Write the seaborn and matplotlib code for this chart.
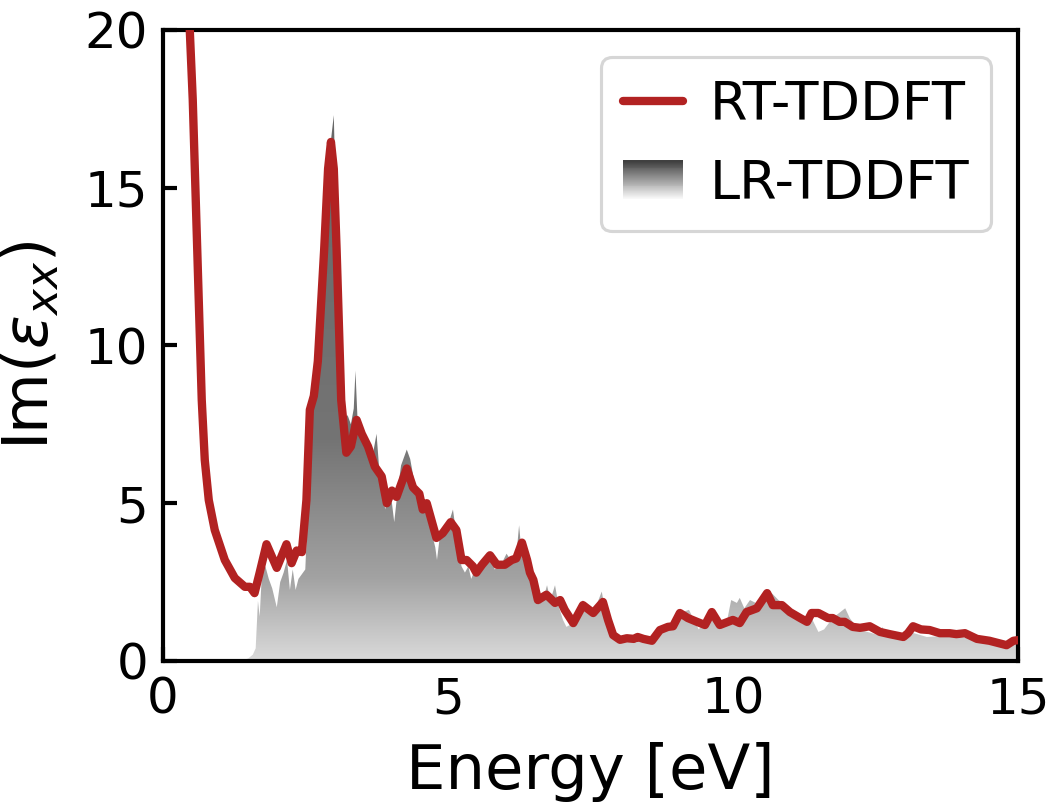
import numpy as np
import matplotlib
matplotlib.use("Agg")
import matplotlib.pyplot as plt
import seaborn as sns
from matplotlib.colors import LinearSegmentedColormap
from matplotlib.legend_handler import HandlerBase
from matplotlib.patches import Rectangle, Patch

# ---------------- data ----------------
rt_x = [0.40, 0.474, 0.526, 0.579, 0.632, 0.684, 0.737, 0.807, 0.912, 1.088, 1.263, 1.44,
        1.53, 1.61, 1.70,
        1.82, 2.00, 2.17, 2.26, 2.35, 2.44, 2.52, 2.58, 2.65, 2.72, 2.83, 2.90, 2.95, 3.00,
        3.05, 3.13, 3.22, 3.30, 3.40, 3.49, 3.60, 3.72, 3.84, 3.93, 4.02, 4.10, 4.28, 4.39,
        4.50, 4.56, 4.63, 4.80, 4.91, 5.05, 5.15, 5.24, 5.33, 5.44, 5.50, 5.60, 5.74, 5.86,
        6.00, 6.12, 6.20, 6.30, 6.39, 6.44, 6.50, 6.58, 6.73, 6.88, 6.97, 7.05, 7.20, 7.37,
        7.55, 7.72, 7.81, 7.90, 8.02, 8.14, 8.26, 8.33, 8.43, 8.58, 8.72, 8.86, 8.95, 9.07,
        9.21, 9.37, 9.51, 9.63, 9.77, 10.00, 10.12, 10.24, 10.42, 10.60, 10.70, 10.86, 11.00,
        11.18, 11.30, 11.38, 11.50, 11.67, 11.75, 11.87, 11.96, 12.10, 12.23, 12.40, 12.58,
        12.75, 12.99, 13.07, 13.16, 13.30, 13.45, 13.63, 13.80, 13.92, 14.07, 14.28, 14.50,
        14.80, 14.92, 15.00]
rt_y = [26.0, 20.0, 17.8, 14.6, 11.4, 8.27, 6.37, 5.1, 4.15, 3.2, 2.63, 2.35,
        2.35, 2.15, 2.8,
        3.7, 2.95, 3.7, 3.1, 3.5, 3.45, 5.1, 7.96, 8.4, 9.5, 13.0, 15.6, 16.45, 15.6,
        13.0, 8.27, 6.6, 6.8, 7.64, 7.2, 6.8, 6.16, 5.85, 5.0, 5.4, 5.2, 6.1, 5.5,
        5.3, 4.8, 5.0, 3.9, 4.05, 4.4, 4.15, 3.2, 3.2, 3.0, 2.8, 3.05, 3.35, 3.05,
        3.05, 3.2, 3.25, 3.75, 3.2, 2.8, 2.57, 1.93, 2.1, 1.84, 1.93, 1.62, 1.2, 1.77,
        1.52, 1.87, 1.3, 0.82, 0.67, 0.72, 0.70, 0.76, 0.70, 0.64, 0.98, 1.08, 1.1, 1.52,
        1.36, 1.24, 1.14, 1.55, 1.14, 1.3, 1.2, 1.55, 1.67, 2.15, 1.77, 1.77, 1.55,
        1.36, 1.24, 1.52, 1.52, 1.36, 1.36, 1.24, 1.24, 1.08, 1.05, 1.1, 0.92,
        0.85, 0.76, 0.88, 1.1, 1.0, 0.98, 0.88, 0.88, 0.85, 0.88, 0.7, 0.64,
        0.5, 0.64, 0.66]

lr_x = [0.0, 1.20, 1.40, 1.50, 1.58, 1.63, 1.67, 1.70, 1.74, 1.80, 1.86, 1.92, 2.00, 2.06,
        2.12, 2.18, 2.23, 2.28, 2.33, 2.38, 2.44, 2.50, 2.55, 2.58, 2.65, 2.72, 2.80, 2.88,
        2.95, 3.00, 3.03, 3.08, 3.13, 3.18, 3.24, 3.30, 3.35, 3.38, 3.42, 3.48, 3.55, 3.62,
        3.68, 3.75, 3.80, 3.86, 3.90, 3.96, 4.02, 4.06, 4.12, 4.18, 4.28, 4.34, 4.40, 4.47,
        4.55, 4.62, 4.70, 4.78, 4.81, 4.86, 4.95, 5.02, 5.09, 5.15, 5.24, 5.30, 5.36, 5.41,
        5.50, 5.62, 5.73, 5.82, 5.92, 6.03, 6.12, 6.20, 6.25, 6.30, 6.38, 6.46, 6.58, 6.68,
        6.74, 6.80, 6.88, 6.95, 7.02, 7.08, 7.20, 7.37, 7.45, 7.55, 7.70, 7.77, 7.90, 8.02,
        8.30, 8.60, 8.72, 8.90, 9.07, 9.23, 9.40, 9.55, 9.63, 9.77, 9.90, 9.97, 10.07, 10.12,
        10.20, 10.30, 10.40, 10.50, 10.60, 10.68, 10.80, 10.88, 10.95, 11.05, 11.27, 11.38,
        11.50, 11.60, 11.75, 11.97, 12.05, 12.20, 12.40, 12.55, 12.62, 12.70, 12.90, 13.05,
        13.40, 13.80, 14.30, 14.60, 15.00]
lr_y = [0.0, 0.0, 0.02, 0.08, 0.2, 0.4, 1.9, 1.4, 2.8, 3.0, 2.6, 2.3, 1.7, 2.5,
        2.8, 3.2, 2.25, 2.9, 2.25, 2.6, 2.75, 2.9, 5.0, 7.8, 8.2, 9.0, 11.5, 14.5,
        16.5, 17.3, 15.0, 11.0, 8.2, 7.4, 7.8, 7.5, 8.0, 9.2, 7.5, 7.2, 6.8, 6.4,
        6.5, 7.2, 6.0, 5.5, 4.8, 5.3, 5.0, 4.4, 5.4, 6.2, 6.7, 6.4, 5.8, 5.3,
        4.7, 4.9, 4.2, 3.6, 3.2, 3.95, 4.2, 4.4, 4.8, 4.0, 3.0, 2.8, 3.0, 2.6,
        3.0, 3.15, 3.45, 2.9, 3.0, 3.4, 3.15, 3.3, 4.3, 3.3, 3.0, 2.45, 1.93, 2.0,
        2.4, 1.93, 2.4, 1.7, 1.3, 1.08, 1.2, 1.93, 1.6, 1.5, 2.2, 1.5, 0.9, 0.67,
        0.72, 0.66, 0.9, 1.0, 1.52, 1.62, 1.0, 1.3, 1.52, 1.1, 1.3, 1.93, 1.84, 2.0,
        1.67, 1.93, 1.84, 2.07, 2.07, 2.15, 1.93, 1.84, 1.77, 1.55, 1.24, 1.36,
        0.92, 1.0, 1.36, 1.67, 1.36, 1.0, 0.9, 0.82, 1.08, 0.8, 0.8, 0.95,
        0.76, 0.8, 0.68, 0.62, 0.55]

x_ticks = [0, 5, 10, 15]
y_ticks = [0, 5, 10, 15, 20]
labels = ["RT-TDDFT", "LR-TDDFT"]

# ---------------- style ----------------
sns.set_style("ticks")
plt.rcParams["font.family"] = ["DejaVu Sans"]
plt.rcParams["mathtext.fontset"] = "dejavusans"
for k in ["text.color", "axes.labelcolor", "xtick.color", "ytick.color", "axes.edgecolor"]:
    plt.rcParams[k] = "black"

fig = plt.figure(figsize=(7, 5.4), dpi=150)
ax = fig.add_axes([0.155, 0.184, 0.8145, 0.779])

red = "#b22222"

# gradient fill for LR-TDDFT
fill_cmap = LinearSegmentedColormap.from_list(
    "fillgrad", [(0.0, "#dadada"), (0.15, "#a2a2a2"), (0.40, "#747474"), (1.0, "#686868")])
poly = ax.fill_between(lr_x, lr_y, 0, facecolor="none", edgecolor="none", lw=0)
grad = np.linspace(0, 1, 256).reshape(-1, 1)
ytop = 17.5
im = ax.imshow(grad, extent=[0, 15, 0, ytop], origin="lower", aspect="auto",
               cmap=fill_cmap, zorder=1, interpolation="bilinear")
im.set_clip_path(poly.get_paths()[0], transform=ax.transData)

# RT-TDDFT line
sns.lineplot(x=rt_x, y=rt_y, ax=ax, color=red, lw=4, sort=False, estimator=None,
             zorder=3)

ax.set_xlim(0, 15)
ax.set_ylim(0, 20)
ax.set_xticks(x_ticks)
ax.set_yticks(y_ticks)
ax.tick_params(direction="in", length=6.5, width=2, labelsize=24, pad=7,
               top=False, right=False, colors="black")
for s in ax.spines.values():
    s.set_linewidth(2)
    s.set_color("black")

ax.set_xlabel("Energy [eV]", fontsize=30, labelpad=9, color="black")
ax.set_ylabel(r"$\mathrm{Im}(\varepsilon_{xx})$", fontsize=30, labelpad=11, color="black")

# legend with gradient patch
leg_cmap = LinearSegmentedColormap.from_list("leggrad", ["#f8f8f8", "#404040"])


class GradHandler(HandlerBase):
    def create_artists(self, legend, orig_handle, xdescent, ydescent, width, height,
                       fontsize, trans):
        n = 40
        arts = []
        for i in range(n):
            c = leg_cmap(i / (n - 1))
            r = Rectangle((-xdescent, -ydescent + height * i / n), width, height / n + 0.3,
                          facecolor=c, edgecolor="none", transform=trans)
            arts.append(r)
        return arts


line_handle = ax.get_lines()[0]
grad_handle = Patch(facecolor="gray")
leg = ax.legend([line_handle, grad_handle], labels, loc="upper right", fontsize=26,
                handlelength=1.1, handletextpad=0.5, frameon=True, fancybox=True,
                framealpha=1, edgecolor="#d6d6d6", labelcolor="black",
                handler_map={Patch: GradHandler()})
leg.get_frame().set_linewidth(1.5)

fig.savefig("out.png", dpi=150)
